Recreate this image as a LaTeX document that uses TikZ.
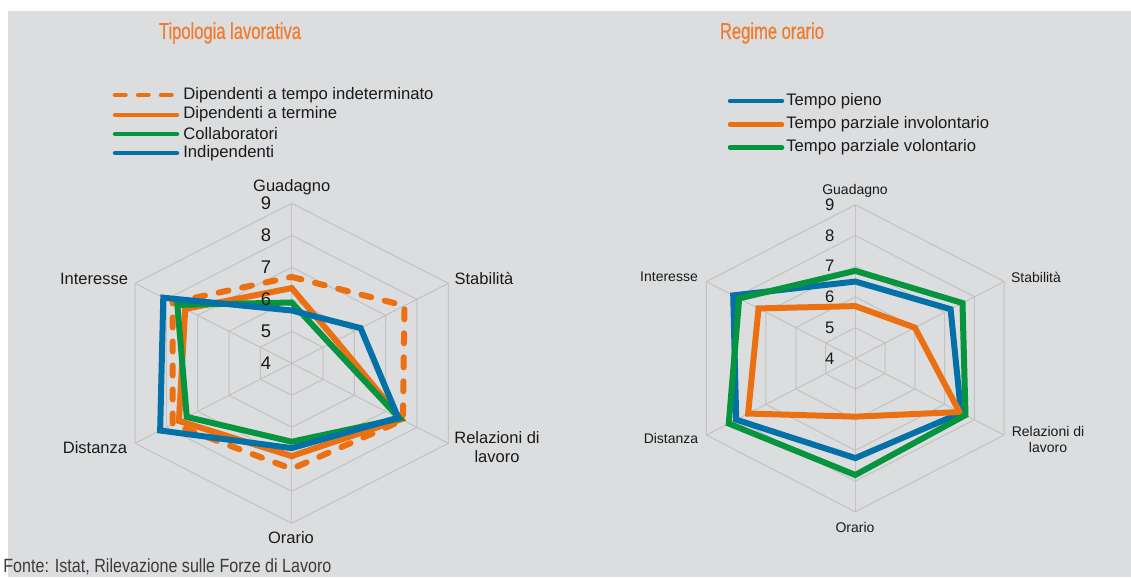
\documentclass[tikz,border=0pt]{standalone}
\usepackage{fontspec}
\setmainfont{Liberation Sans}
\newfontfamily\titlefont[FakeStretch=0.72,FakeBold=0.5]{Liberation Sans}
\newfontfamily\sourcefont[FakeStretch=0.84]{Liberation Sans}

\definecolor{chartbg}{HTML}{DCDDDF}
\definecolor{gridgray}{HTML}{C2C2C2}
\definecolor{corange}{HTML}{EB7012}
\definecolor{cgreen}{HTML}{07943F}
\definecolor{cblue}{HTML}{0470A8}
\definecolor{titleorange}{HTML}{F27A2C}
\definecolor{labblack}{HTML}{1A1A1A}
\definecolor{srcgray}{HTML}{3C3C3C}

\begin{document}
\begin{tikzpicture}[x=0.6pt,y=-0.6pt]
        % Define styles
        \tikzset{
            gridline/.style={draw=gridgray, line width=0.6pt},
            serie/.style={line width=3.6pt, line join=miter},
            dashserie/.style={serie, line cap=round, dash pattern=on 6pt off 8.4pt},
            legline/.style={line width=2.7pt, line cap=round},
            legdash/.style={legline, dash pattern=on 6.3pt off 7.5pt},
            axislab/.style={font=\fontsize{9.9}{11.5}\selectfont, text=labblack, inner sep=0pt, align=center},
            axislabsmall/.style={font=\fontsize{8.4}{9.6}\selectfont, text=labblack, inner sep=0pt, align=center},
            ticklab/.style={font=\fontsize{11}{12}\selectfont, text=labblack, anchor=east, inner sep=0pt},
            ticklabsmall/.style={font=\fontsize{10}{11}\selectfont, text=labblack, anchor=east, inner sep=0pt},
            legtext/.style={font=\fontsize{10}{12}\selectfont, text=labblack, anchor=west, inner sep=0pt},
            charttitle/.style={font=\titlefont\fontsize{13.8}{15}\selectfont, text=titleorange, inner sep=0pt}
        }

        % Background
        \useasboundingbox (0,0) rectangle (1131,577);
        \fill[white] (0,0) rectangle (1131,577);
        \fill[chartbg] (8,11) rectangle (1131,577);

        % Titles
        \node[charttitle] (title_tipologia) at (230,33) {Tipologia lavorativa};
        \node[charttitle] (title_regime) at (772,33) {Regime orario};

        % Legend tipologia
        \draw[legdash, corange] (115,95) -- (177,95);
        \draw[legline, corange] (115,115) -- (177,115);
        \draw[legline, cgreen] (115,134) -- (177,134);
        \draw[legline, cblue] (115,153) -- (177,153);
        \node[legtext] (leg_indet) at (183,95) {Dipendenti a tempo indeterminato};
        \node[legtext] (leg_termine) at (183,114.5) {Dipendenti a termine};
        \node[legtext] (leg_collab) at (183,134) {Collaboratori};
        \node[legtext] (leg_indip) at (183,153.5) {Indipendenti};

        % Legend regime
        \draw[legline, cblue] (730,101) -- (782,101);
        \draw[legline, corange] (730,124.5) -- (782,124.5);
        \draw[legline, cgreen] (730,147.5) -- (782,147.5);
        \node[legtext] (leg_pieno) at (786,101) {Tempo pieno};
        \node[legtext] (leg_involont) at (786,124.5) {Tempo parziale involontario};
        \node[legtext] (leg_volont) at (786,147.5) {Tempo parziale volontario};

        % Radar tipologia
        \begin{scope}[shift={(291.7,363.3)}, x=21.7pt, y=19.2pt]
            \foreach \r in {1,...,5}
                \draw[gridline] (90:\r) -- (30:\r) -- (-30:\r) -- (-90:\r) -- (-150:\r) -- (150:\r) -- cycle;
            \foreach \a in {90,30,-30,-90,-150,150}
                \draw[gridline] (0,0) -- (\a:5);
            \draw[dashserie, corange] (90:2.7) -- (30:3.6) -- (-30:3.55) -- (-90:3.3) -- (-150:3.8) -- (150:3.8) -- cycle;
            \draw[serie, corange] (90:2.35) -- (30:1.42) -- (-30:3.5) -- (-90:2.9) -- (-150:3.6) -- (150:3.4) -- cycle;
            \draw[serie, cgreen] (90:1.9) -- (30:1.22) -- (-30:3.45) -- (-90:2.45) -- (-150:3.35) -- (150:3.65) -- cycle;
            \draw[serie, cblue] (90:1.65) -- (30:2.2) -- (-30:3.4) -- (-90:2.65) -- (-150:4.2) -- (150:4.1) -- cycle;
            \foreach \r [evaluate=\r as \v using int(\r+4)] in {0,...,5}
                \node[ticklab] (tick_tip_\v) at (-0.56,\r) {\v};
        \end{scope}
        \node[axislab] (tip_guadagno) at (291.7,187) {Guadagno};
        \node[axislab] (tip_stabilita) at (484,279) {Stabilità};
        \node[axislab] (tip_relazioni) at (497,447) {Relazioni di\\lavoro};
        \node[axislab] (tip_orario) at (291,538) {Orario};
        \node[axislab] (tip_distanza) at (95,448) {Distanza};
        \node[axislab] (tip_interesse) at (94,279) {Interesse};

        % Radar regime
        \begin{scope}[shift={(855.3,358.3)}, x=20.63pt, y=18.42pt]
            \foreach \r in {1,...,5}
                \draw[gridline] (90:\r) -- (30:\r) -- (-30:\r) -- (-90:\r) -- (-150:\r) -- (150:\r) -- cycle;
            \foreach \a in {90,30,-30,-90,-150,150}
                \draw[gridline] (0,0) -- (\a:5);
            \draw[serie, cblue] (90:2.5) -- (30:3.2) -- (-30:3.55) -- (-90:3.25) -- (-150:4.0) -- (150:4.1) -- cycle;
            \draw[serie, corange] (90:1.7) -- (30:2.0) -- (-30:3.5) -- (-90:1.9) -- (-150:3.6) -- (150:3.25) -- cycle;
            \draw[serie, cgreen] (90:2.85) -- (30:3.6) -- (-30:3.7) -- (-90:3.8) -- (-150:4.25) -- (150:3.9) -- cycle;
            \foreach \r [evaluate=\r as \v using int(\r+4)] in {0,...,5}
                \node[ticklabsmall] (tick_reg_\v) at (-0.6,\r) {\v};
        \end{scope}
        \node[axislabsmall] (reg_guadagno) at (855,191) {Guadagno};
        \node[axislabsmall] (reg_stabilita) at (1036,277) {Stabilità};
        \node[axislabsmall] (reg_relazioni) at (1048,439) {Relazioni di\\lavoro};
        \node[axislabsmall] (reg_orario) at (855,527) {Orario};
        \node[axislabsmall] (reg_distanza) at (671,438) {Distanza};
        \node[axislabsmall] (reg_interesse) at (669,277) {Interesse};

        % Source
        \node[anchor=west, inner sep=0pt, text=srcgray, font=\sourcefont\fontsize{11.5}{13}\selectfont] (fonte) at (3,567) {Fonte: Istat, Rilevazione sulle Forze di Lavoro};
\end{tikzpicture}
\end{document}
